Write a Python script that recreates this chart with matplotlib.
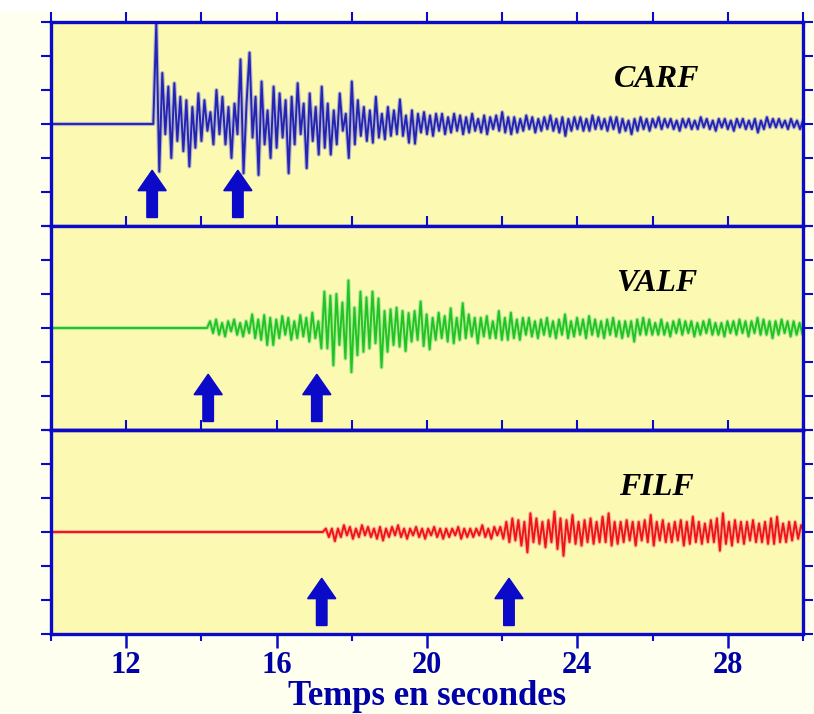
import numpy as np
import matplotlib
matplotlib.use("Agg")
import matplotlib.pyplot as plt
from matplotlib.ticker import MultipleLocator, NullFormatter, FixedLocator
from matplotlib.patches import Rectangle

# ---------------- data ----------------
stations = ["CARF", "VALF", "FILF"]
trace_start = 10.0          # start of record (s)
sample_dt = 0.08            # sample step (s)
onsets = [12.72, 14.15, 17.23]   # first motion time of each trace (s)

carf = [
    0, 2.95, -1.4, 1.5, -0.3, 1.1, -1.0, 1.2, -0.5, 0.8,
    -0.8, 0.7, -1.25, 0.5, -0.7, 0.9, -0.5, 0.7, -0.2, 0.35,
    -0.6, 1.0, -0.3, 0.8, -0.6, 0.5, -1.0, 0.6, -0.3, 1.9,
    -1.45, 0.6, 2.1, -0.4, 0.8, -1.5, 1.25, -0.6, 0.4, -1.0,
    1.1, -0.7, 0.9, -0.4, 0.7, -1.45, 0.8, -0.6, 1.2, -0.3,
    0.6, -1.3, 0.9, -0.5, 0.5, -0.9, 1.1, -0.7, 0.6, -0.9,
    0.4, -0.6, 0.9, -0.2, 0.3, -1.0, 1.25, -0.6, 0.7, -0.35,
    0.5, -0.5, 0.4, -0.55, 0.8, -0.4, 0.3, -0.45, 0.5, -0.35,
    0.4, -0.3, 0.72, -0.35, 0.25, -0.55, 0.4, -0.58, 0.3, -0.25,
    0.35, -0.3, 0.25, -0.35, 0.3, -0.2, 0.3, -0.3, 0.2, -0.25,
    0.3, -0.2, 0.25, -0.3, 0.2, -0.25, 0.3, -0.2, 0.15, -0.25,
    0.25, -0.3, 0.2, -0.15, 0.25, -0.2, 0.35, -0.25, 0.2, -0.3,
    0.2, -0.25, 0.15, -0.2, 0.25, -0.15, 0.2, -0.25, 0.15, -0.2,
    0.2, -0.15, 0.25, -0.2, 0.15, -0.25, 0.2, -0.35, 0.15, -0.2,
    0.2, -0.15, 0.2, -0.2, 0.15, -0.2, 0.25, -0.15, 0.2, -0.15,
    0.15, -0.2, 0.2, -0.15, 0.2, -0.25, 0.15, -0.2, 0.1, -0.3,
    0.15, -0.2, 0.2, -0.15, 0.15, -0.2, 0.15, -0.1, 0.2, -0.15,
    0.15, -0.1, 0.15, -0.15, 0.1, -0.2, 0.15, -0.1, 0.15, -0.15,
    0.1, -0.15, 0.2, -0.1, 0.15, -0.15, 0.1, -0.2, 0.15, -0.1,
    0.15, -0.15, 0.1, -0.2, 0.15, -0.1, 0.15, -0.15, 0.1, -0.15,
    0.15, -0.25, 0.1, -0.15, 0.2, -0.1, 0.15, -0.1, 0.15, -0.1,
    0.1, -0.15, 0.15, -0.1, 0.1, -0.15, 0.1, -0.1, 0.1, -0.1,
]

valf = [
    0, 0.2, -0.15, 0.25, -0.2, 0.15, -0.25, 0.2, -0.1, 0.25,
    -0.2, 0.15, -0.25, 0.2, -0.15, 0.4, -0.3, 0.25, -0.35, 0.38,
    -0.5, 0.3, -0.5, 0.25, -0.3, 0.35, -0.2, 0.3, -0.35, 0.2,
    -0.3, 0.38, -0.25, 0.3, -0.4, 0.45, -0.3, 0.2, -0.6, 1.07,
    -0.6, 0.95, -1.1, 1.0, -0.5, 0.75, -0.9, 1.4, -1.3, 0.6,
    -0.8, 1.07, -0.7, 0.9, -0.6, 1.07, -0.45, 0.87, -1.16, 0.5,
    -0.7, 0.55, -0.5, 0.6, -0.55, 0.5, -0.68, 0.44, -0.4, 0.5,
    -0.35, 0.78, -0.53, 0.4, -0.63, 0.3, -0.35, 0.45, -0.3, 0.35,
    -0.4, 0.58, -0.45, 0.3, -0.35, 0.73, -0.3, 0.4, -0.25, 0.3,
    -0.45, 0.3, -0.25, 0.35, -0.3, 0.2, -0.3, 0.5, -0.35, 0.3,
    -0.35, 0.45, -0.3, 0.25, -0.35, 0.3, -0.2, 0.3, -0.25, 0.2,
    -0.3, 0.25, -0.2, 0.3, -0.25, 0.2, -0.3, 0.25, -0.2, 0.4,
    -0.3, 0.2, -0.25, 0.3, -0.2, 0.25, -0.3, 0.35, -0.2, 0.25,
    -0.25, 0.2, -0.3, 0.25, -0.2, 0.3, -0.25, 0.2, -0.3, 0.2,
    -0.25, 0.2, -0.4, 0.25, -0.2, 0.3, -0.2, 0.25, -0.2, 0.15,
    -0.2, 0.25, -0.2, 0.15, -0.25, 0.2, -0.15, 0.25, -0.2, 0.2,
    -0.15, 0.2, -0.25, 0.15, -0.2, 0.2, -0.15, 0.25, -0.2, 0.15,
    -0.2, 0.15, -0.25, 0.2, -0.15, 0.2, -0.2, 0.25, -0.15, 0.2,
    -0.25, 0.2, -0.15, 0.3, -0.2, 0.25, -0.2, 0.2, -0.3, 0.2,
    -0.2, 0.25, -0.15, 0.2, -0.25, 0.2, -0.2, 0.15, -0.2, 0.1,
]

filf = [
    0, 0.1, -0.15, 0.1, -0.27, 0.1, -0.15, 0.2, -0.1, 0.15,
    -0.2, 0.1, -0.15, 0.2, -0.1, 0.15, -0.15, 0.1, -0.2, 0.15,
    -0.25, 0.1, -0.15, 0.15, -0.1, 0.2, -0.15, 0.1, -0.2, 0.1,
    -0.1, 0.15, -0.15, 0.1, -0.2, 0.1, -0.1, 0.15, -0.15, 0.1,
    -0.2, 0.1, -0.15, 0.1, -0.1, 0.15, -0.2, 0.1, -0.15, 0.1,
    -0.15, 0.1, -0.1, 0.2, -0.15, 0.1, -0.2, 0.15, -0.1, 0.15,
    -0.2, 0.3, -0.3, 0.4, -0.25, 0.35, -0.4, 0.3, -0.6, 0.55,
    -0.3, 0.4, -0.35, 0.3, -0.45, 0.35, -0.3, 0.6, -0.5, 0.4,
    -0.7, 0.35, -0.3, 0.5, -0.35, 0.3, -0.4, 0.35, -0.3, 0.4,
    -0.35, 0.3, -0.3, 0.45, -0.3, 0.55, -0.4, 0.3, -0.35, 0.3,
    -0.3, 0.35, -0.25, 0.3, -0.4, 0.3, -0.25, 0.35, -0.3, 0.5,
    -0.4, 0.3, -0.25, 0.35, -0.3, 0.25, -0.3, 0.3, -0.25, 0.35,
    -0.4, 0.3, -0.35, 0.45, -0.3, 0.3, -0.35, 0.25, -0.3, 0.35,
    -0.3, 0.4, -0.55, 0.55, -0.35, 0.3, -0.4, 0.35, -0.3, 0.3,
    -0.35, 0.3, -0.25, 0.35, -0.3, 0.25, -0.3, 0.3, -0.35, 0.4,
    -0.35, 0.45, -0.3, 0.25, -0.3, 0.3, -0.25, 0.3, -0.2, 0.2,
    0,
]

traces = [carf, valf, filf]
# arrival picks (s) shown by arrows
picks = [[12.69, 14.97], [14.18, 17.07], [17.2, 22.18]]

x_ticks_major = [12, 16, 20, 24, 28]
x_label = "Temps en secondes"

# ---------------- style ----------------
frame_blue = "#0A0AC8"
label_blue = "#0000A8"
panel_bg = "#FCF9B3"
trace_colors = ["#2424B4", "#22C422", "#F01414"]
halo_colors = ["#8C8CD2", "#8CE08C", "#F89090"]
serif = ["Liberation Serif", "DejaVu Serif"]

fig = plt.figure(figsize=(8.14, 7.14), dpi=100, facecolor="#FFFFF0")
fig.patches.append(Rectangle((0, 1 - 12 / 714), 1, 12 / 714, transform=fig.transFigure,
                             facecolor="white", edgecolor="none", zorder=0))

gs = fig.add_gridspec(3, 1, left=51 / 814, right=803 / 814,
                      top=1 - 22 / 714, bottom=1 - 634 / 714, hspace=0)

for i, (name, vals, col, pk) in enumerate(zip(stations, traces, trace_colors, picks)):
    ax = fig.add_subplot(gs[i])
    ax.set_facecolor(panel_bg)
    t = np.concatenate([[trace_start], onsets[i] + sample_dt * np.arange(len(vals))])
    y = np.concatenate([[0.0], np.asarray(vals, dtype=float)])
    ax.plot(t, y, color=halo_colors[i], lw=3.0, alpha=0.6, zorder=2)
    ax.plot(t, y, color=col, lw=1.4, zorder=3)
    ax.set_xlim(10, 30)
    ax.set_ylim(-3, 3)

    for s in ax.spines.values():
        s.set_color(frame_blue)
        s.set_linewidth(2.4)
        s.set_zorder(5)

    ax.yaxis.set_major_locator(MultipleLocator(1))
    ax.tick_params(axis="y", which="both", left=True, right=True, labelleft=False,
                   labelright=False, direction="out", length=7, width=1.5, color=frame_blue)

    if i < 2:
        ax.xaxis.set_major_locator(MultipleLocator(2))
        ax.tick_params(axis="x", which="both", top=True, bottom=False, labelbottom=False,
                       labeltop=False, direction="out", length=7, width=1.5, color=frame_blue)
    else:
        ax.xaxis.set_major_locator(FixedLocator(x_ticks_major))
        ax.xaxis.set_minor_locator(MultipleLocator(2))
        ax.tick_params(axis="x", which="major", top=False, bottom=True, direction="out",
                       length=10, width=1.8, color=frame_blue, labelsize=22,
                       labelcolor=label_blue, pad=2)
        ax.tick_params(axis="x", which="minor", top=False, bottom=True, direction="out",
                       length=5, width=1.5, color=frame_blue)
        for lab in ax.get_xticklabels():
            lab.set_fontfamily(serif)
            lab.set_fontweight("bold")
        ax.set_xlabel(x_label, fontsize=25, fontweight="bold", color=label_blue,
                      family=serif, labelpad=0)
        sec = ax.secondary_xaxis("top")
        sec.xaxis.set_major_locator(MultipleLocator(2))
        sec.xaxis.set_major_formatter(NullFormatter())
        sec.tick_params(axis="x", direction="out", length=7, width=1.5, color=frame_blue)
        sec.spines["top"].set_color(frame_blue)
        sec.spines["top"].set_linewidth(2.4)

    for p in pk:
        ax.arrow(p, -2.75, 0, 1.39, width=0.28, head_width=0.75, head_length=0.6,
                 length_includes_head=True, color=frame_blue, zorder=4)

    ax.text(26.1, 1.3, name, ha="center", va="center", fontsize=23,
            fontweight="bold", fontstyle="italic", family=serif, color="black", zorder=4)

fig.savefig("out.png", dpi=100, facecolor=fig.get_facecolor())
